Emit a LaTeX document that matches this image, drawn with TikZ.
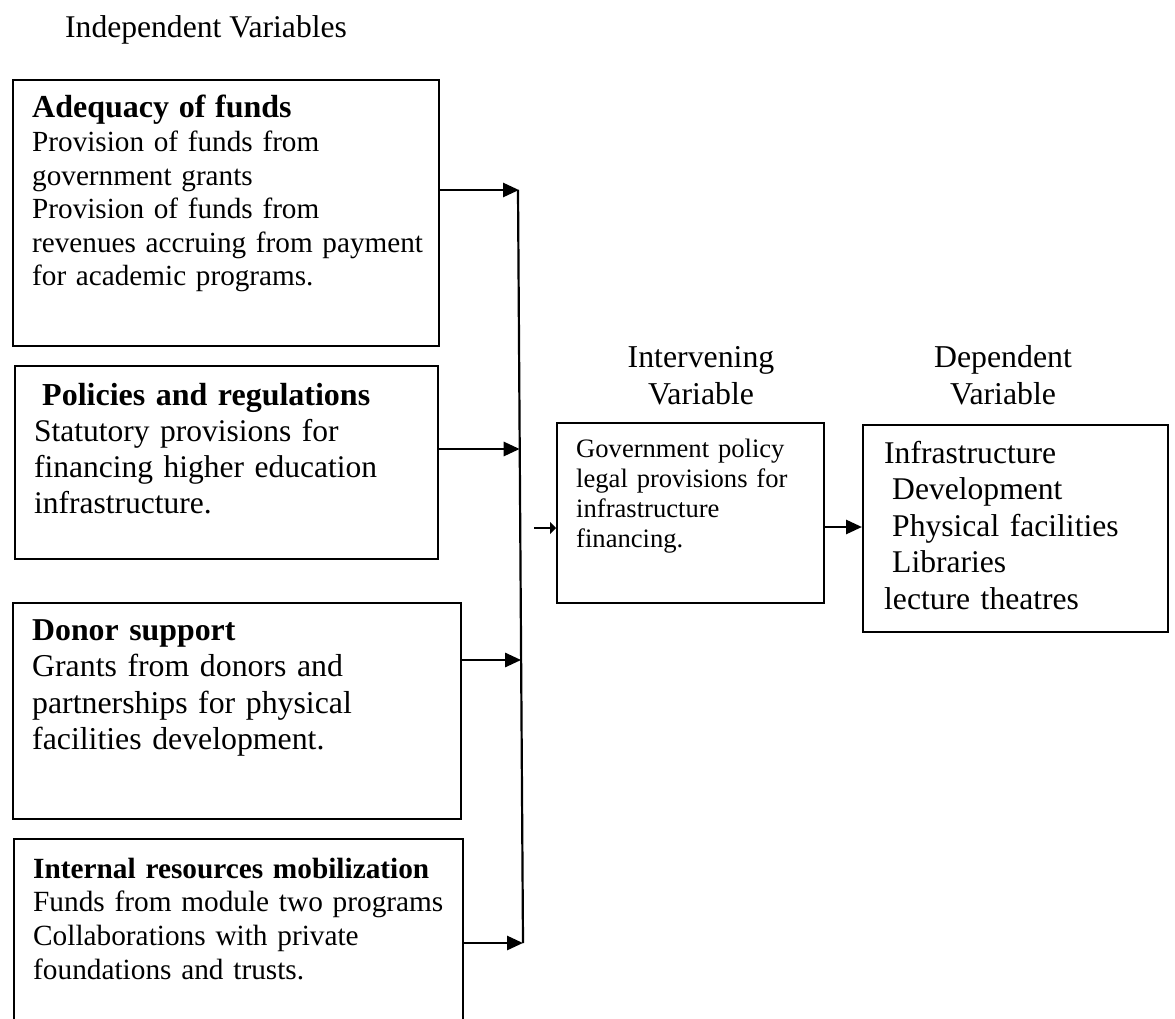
\documentclass[tikz,border=0pt]{standalone}
\usepackage{fontspec}
\setmainfont{Liberation Serif}
\usetikzlibrary{arrows.meta}
\begin{document}
\begin{tikzpicture}[x=1pt,y=-1pt,
  box/.style={draw,line width=1.8pt,inner sep=0pt,anchor=north west},
  txt/.style={inner sep=0pt,anchor=base west,align=left,text width=460pt},
  hdr/.style={inner sep=0pt,anchor=base,align=center,font=\fontsize{31.8}{36.7}\selectfont},
  arr/.style={line width=2.8pt,-{Triangle[length=16pt,width=14pt]}},
  sarr/.style={line width=2.8pt,-{Triangle[length=6pt,width=12pt]}},
  vline/.style={line width=2.2pt}]
\useasboundingbox (0,0) rectangle (1175,1019);

% title
\node[inner sep=0pt,anchor=base west,font=\fontsize{31.6}{36}\selectfont] (title) at (65,38) {Independent Variables};

% independent boxes
\node[box,minimum width=426,minimum height=266] (b1) at (12,79) {};
\node[box,minimum width=423,minimum height=193] (b2) at (14,365) {};
\node[box,minimum width=448,minimum height=216] (b3) at (12,602) {};
\node[box,minimum width=449,minimum height=200] (b4) at (13,838) {};

\node[txt,font=\fontsize{29.2}{33.6}\selectfont] (t1) at (32,118)
  {{\fontsize{32}{33.6}\selectfont\bfseries Adequacy of funds}\\
   Provision of funds from\\
   government grants\\
   Provision of funds from\\
   revenues accruing from payment\\
   for academic programs.};
\node[txt,font=\fontsize{31.5}{36.2}\selectfont] (t2) at (34,405)
  {\hspace*{8pt}{\fontsize{32}{36.2}\selectfont\bfseries Policies and regulations}\\
   Statutory provisions for\\
   financing higher education\\
   infrastructure.};
\node[txt,font=\fontsize{31.8}{36.6}\selectfont] (t3) at (32,640)
  {{\bfseries Donor support}\\
   Grants from donors and\\
   partnerships for physical\\
   facilities development.};
\node[txt,font=\fontsize{29.3}{33.7}\selectfont] (t4) at (33,878)
  {{\bfseries Internal resources mobilization}\\
   Funds from module two programs\\
   Collaborations with private\\
   foundations and trusts.};

% collecting line
\coordinate (vtop) at (518,190);
\coordinate (vbot) at (523,943);
\draw[vline] (vtop) -- (vbot);
\coordinate (e1) at (519,190);
\coordinate (e2) at (519.7,449);
\coordinate (e3) at (521.1,660);
\coordinate (e4) at (523,943);
\draw[arr] (b1.east |- e1) -- (e1);
\draw[arr] (b2.east |- e2) -- (e2);
\draw[arr] (b3.east |- e3) -- (e3);
\draw[arr] (b4.east |- e4) -- (e4);

% headers (anchor = baseline of last line)
\node[hdr] (h1) at (701,404) {Intervening\\Variable};
\node[hdr] (h2) at (1003,404) {Dependent\\Variable};

% intervening and dependent boxes
\node[box,minimum width=267,minimum height=180] (b5) at (556,422) {};
\node[box,minimum width=305,minimum height=207] (b6) at (862,424) {};

\node[txt,font=\fontsize{26.6}{30}\selectfont] (t5) at (576,457)
  {Government policy\\
   legal provisions for\\
   infrastructure\\
   financing.};
\node[txt,font=\fontsize{31.6}{36.5}\selectfont] (t6) at (884,463)
  {Infrastructure\\
   \hspace*{8pt}Development\\
   \hspace*{8pt}Physical facilities\\
   \hspace*{8pt}Libraries\\
   lecture theatres};

\coordinate (s0) at (534,528);
\draw[sarr] (s0) -- (b5.west |- s0);
\draw[arr] (b5.east |- 0,527) -- (b6.west |- 0,527);
\end{tikzpicture}
\end{document}
